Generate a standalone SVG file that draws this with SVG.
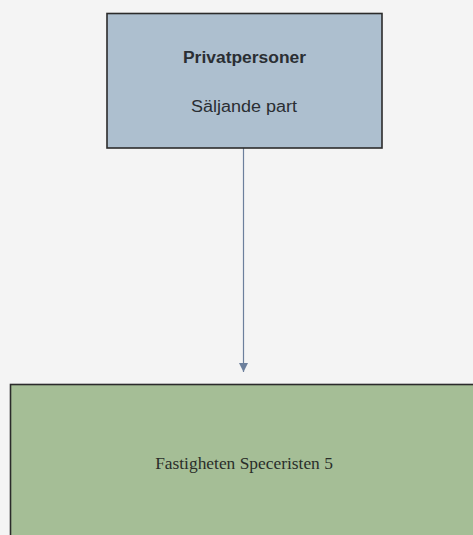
<svg xmlns="http://www.w3.org/2000/svg" width="473" height="535" viewBox="0 0 473 535">
<style>
.box{stroke:#2b2b2b;stroke-width:1.6}
.sans{font-family:"Liberation Sans",Arial,sans-serif;font-size:16px;fill:#2a2e33;text-anchor:middle}
.serif{font-family:"Liberation Serif","Times New Roman",serif;font-size:17.4px;fill:#2a2e2a;text-anchor:middle}
.conn{stroke:#6c7f9c;stroke-width:1.2;fill:none}
</style>
<defs>
<marker id="arrow" markerWidth="10" markerHeight="10" refX="9" refY="5" orient="auto" markerUnits="userSpaceOnUse">
<path d="M0,0.5 L9,5 L0,9.5 Z" fill="#6c7f9c"/>
</marker>
</defs>
<rect width="473" height="535" fill="#f4f4f4"/>
<g id="connectors">
<line class="conn" x1="243.5" y1="148" x2="243.5" y2="372" marker-end="url(#arrow)"/>
</g>
<g id="node-privatpersoner">
<rect class="box" x="107" y="13.5" width="275" height="134.5" fill="#adbfcf"/>
<text class="sans" x="244.5" y="63" font-weight="bold" textLength="123" lengthAdjust="spacingAndGlyphs">Privatpersoner</text>
<text class="sans" x="244" y="112" textLength="106" lengthAdjust="spacingAndGlyphs">Säljande part</text>
</g>
<g id="node-fastigheten">
<rect class="box" x="10.5" y="384.5" width="480" height="170" fill="#a5be96" stroke-width="2"/>
<text class="serif" x="244" y="469">Fastigheten Speceristen 5</text>
</g>
</svg>
